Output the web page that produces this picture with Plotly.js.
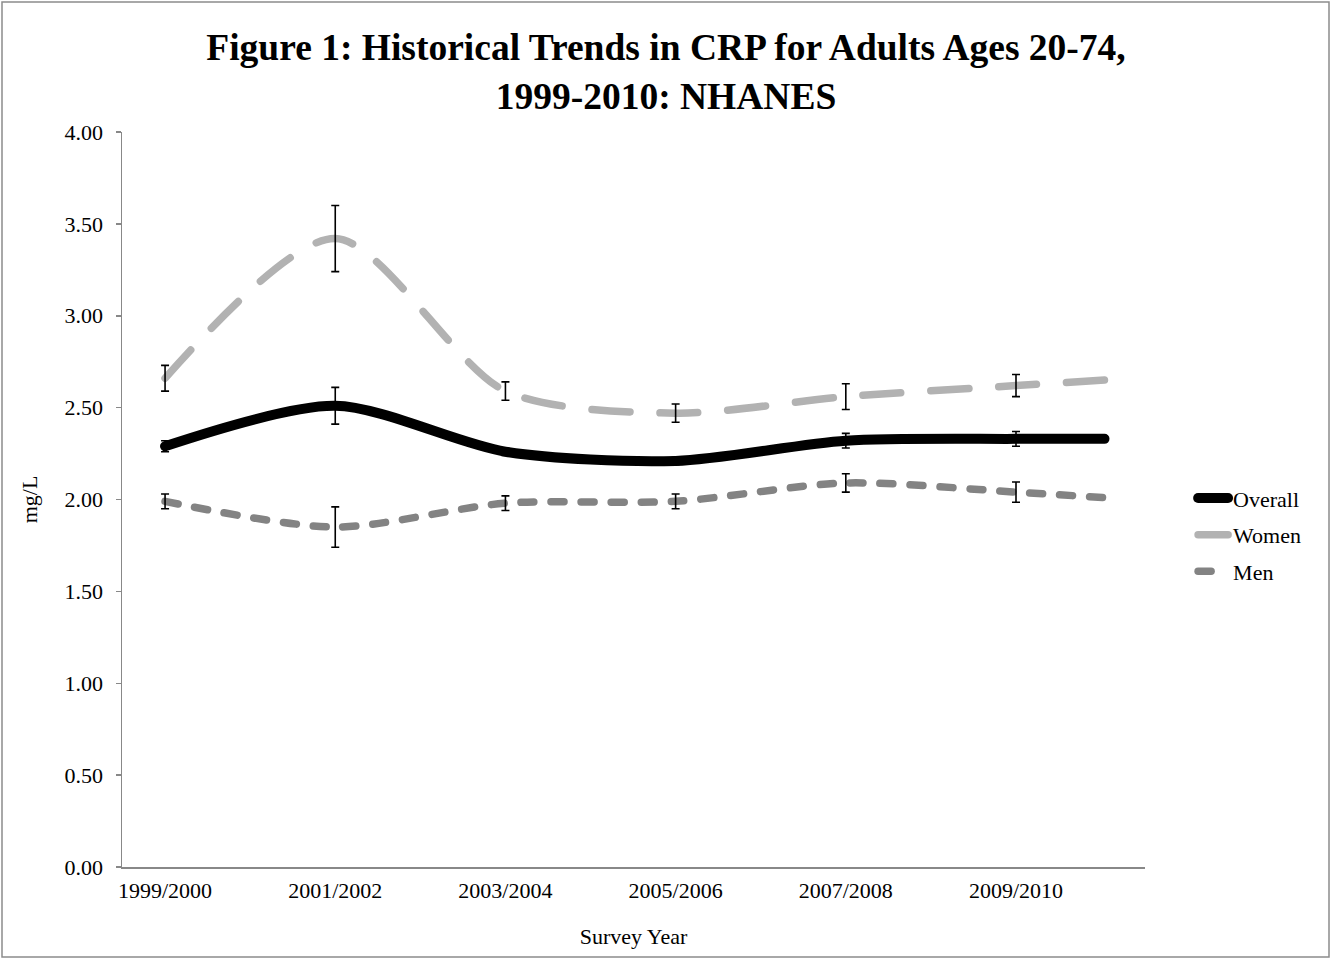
<!DOCTYPE html>
<html>
<head>
<meta charset="utf-8">
<script src="https://cdn.plot.ly/plotly-3.0.1.min.js"></script>
<style>
  html, body { margin: 0; padding: 0; background: #fff; }
  #chart { width: 1332px; height: 959px; }
  .scatterlayer .js-line, .legend .js-line { stroke-linecap: round !important; stroke-linejoin: round !important; }
</style>
</head>
<body>
<div id="chart"></div>
<script>
// Survey cycles (category positions 0..5); the lines run on to a final point past the last cycle
const categories = ["1999/2000", "2001/2002", "2003/2004", "2005/2006", "2007/2008", "2009/2010"];
const catPos = [0, 1, 2, 3, 4, 5];
const linePos = [0, 1, 2, 3, 4, 5, 5.52];

// Mean CRP (mg/L) per survey cycle, plus the trailing line point
const overall = [2.29, 2.51, 2.26, 2.21, 2.32, 2.33, 2.33];
const women   = [2.66, 3.42, 2.59, 2.47, 2.56, 2.62, 2.65];
const men     = [1.99, 1.85, 1.98, 1.99, 2.09, 2.04, 2.01];

// Error bar half-widths (mg/L) for each survey cycle
const overallErr = [0.03, 0.10, 0.02, 0.02, 0.04, 0.04];
const womenErr   = [0.07, 0.18, 0.05, 0.05, 0.07, 0.06];
const menErr     = [0.04, 0.11, 0.04, 0.04, 0.05, 0.055];

const serif = "Liberation Serif, Times New Roman, serif";

function lineTrace(name, y, color, width, dash) {
  return {
    type: "scatter", mode: "lines", name: name, legendgroup: name,
    x: linePos, y: y,
    line: { color: color, width: width, dash: dash, shape: "spline", smoothing: 0.8 },
    hoverinfo: "skip"
  };
}
function errTrace(y, err) {
  return {
    type: "scatter", mode: "markers", showlegend: false,
    x: catPos, y: y.slice(0, catPos.length),
    marker: { size: 1, color: "rgba(0,0,0,0)" },
    error_y: { type: "data", array: err, visible: true, color: "#000", thickness: 1.6, width: 4 },
    hoverinfo: "skip"
  };
}

const data = [
  lineTrace("Overall", overall, "#000000", 10, "solid"),
  lineTrace("Women", women, "#b2b2b2", 7.5, "38px,30px"),
  lineTrace("Men", men, "#838383", 7.5, "13px,17px"),
  errTrace(overall, overallErr),
  errTrace(women, womenErr),
  errTrace(men, menErr)
];

const layout = {
  width: 1332, height: 959,
  margin: { l: 122, r: 187, t: 132, b: 92 },
  paper_bgcolor: "#fff", plot_bgcolor: "#fff",
  font: { family: serif, color: "#000", size: 22 },
  title: {
    text: "<b>Figure 1: Historical Trends in CRP for Adults Ages 20-74,<br>1999-2010: NHANES</b>",
    font: { family: serif, size: 37.5, color: "#000" },
    x: 0.5, xref: "container", xanchor: "center",
    y: 0.937, yref: "container", yanchor: "middle"
  },
  xaxis: {
    range: [-0.253, 5.758],
    tickmode: "array", tickvals: catPos, ticktext: categories,
    showgrid: false, zeroline: false,
    showline: true, linecolor: "#888", linewidth: 1.5,
    ticks: "", ticklen: 0, ticklabelstandoff: 3,
    tickfont: { family: serif, size: 22 },
    title: { text: "Survey Year", font: { family: serif, size: 22 }, standoff: 26 }
  },
  yaxis: {
    range: [0, 4], tickvals: [0, 0.5, 1, 1.5, 2, 2.5, 3, 3.5, 4], tickformat: ".2f",
    showgrid: false, zeroline: false,
    showline: true, linecolor: "#888", linewidth: 1.5,
    ticks: "outside", ticklen: 5, tickcolor: "#888", tickwidth: 1.5,
    ticklabelstandoff: 8,
    tickfont: { family: serif, size: 22 },
    title: { text: "mg/L", font: { family: serif, size: 22 }, standoff: 21 }
  },
  legend: {
    x: 1.047, xanchor: "left", y: 0.452, yanchor: "middle",
    traceorder: "grouped", tracegroupgap: 5,
    font: { family: serif, size: 22, color: "#000" },
    bgcolor: "rgba(0,0,0,0)", borderwidth: 0
  },
  shapes: [{
    type: "rect", xref: "paper", yref: "paper",
    x0: (2 - 122) / 1023, x1: (1329 - 122) / 1023,
    y0: (867 - 957) / 735, y1: (867 - 2) / 735,
    line: { color: "#8c8c8c", width: 1.5 }, fillcolor: "rgba(0,0,0,0)", layer: "below"
  }],
  showlegend: true
};

Plotly.newPlot("chart", data, layout, { staticPlot: true, displayModeBar: false });
</script>
</body>
</html>
